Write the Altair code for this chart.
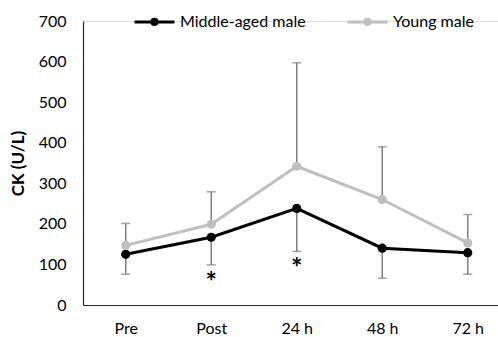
import altair as alt
import pandas as pd

categories = ["Pre", "Post", "24 h", "48 h", "72 h"]
series_names = ["Middle-aged male", "Young male"]
middle_aged = [125, 167, 238, 140, 129]
young = [147, 199, 342, 260, 153]
# error bars: young -> upward, middle-aged -> downward
young_upper = [201, 279, 597, 390, 223]
middle_lower = [76, 99, 132, 66, 76]
sig_labels = ["", "*", "*", "", ""]
sig_pos = [0, 69, 104, 0, 0]
y_ticks = [0, 100, 200, 300, 400, 500, 600, 700]
series_colors = ["#000000", "#bfbfbf"]

rows = []
for i, c in enumerate(categories):
    rows.append({"idx": i, "cat": c, "series": series_names[0], "value": middle_aged[i],
                 "err": middle_lower[i]})
    rows.append({"idx": i, "cat": c, "series": series_names[1], "value": young[i],
                 "err": young_upper[i]})
df = pd.DataFrame(rows)

sig_df = pd.DataFrame({"idx": list(range(len(categories))), "label": sig_labels, "pos": sig_pos})
sig_df = sig_df[sig_df["label"] != ""]

label_expr = "[" + ",".join(f"'{c}'" for c in categories) + "][datum.value]"

x_scale = alt.Scale(domain=[-0.5, 4.354], nice=False, zero=False)
y_scale = alt.Scale(domain=[0, 700], nice=False)

FONT = "Lato"

x_enc = alt.X("idx:Q", scale=x_scale,
              axis=alt.Axis(title=None, values=list(range(len(categories))), labelExpr=label_expr,
                            ticks=False, tickSize=0, grid=False, labelPadding=15,
                            labelFontSize=16, labelColor="#000000", labelFont=FONT,
                            domainColor="#262626", domainWidth=1.2, labelFlush=False))
y_enc = alt.Y("value:Q", scale=y_scale,
              axis=alt.Axis(title="CK (U/L)", values=y_ticks, ticks=False, tickSize=0, grid=False,
                            labelPadding=17, labelFontSize=16, labelColor="#000000", labelFont=FONT,
                            titleFont=FONT, titleFontSize=17, titleFontWeight="bold",
                            titleColor="#000000", titlePadding=11,
                            domainColor="#262626", domainWidth=1.2))

base = alt.Chart(df)

err_rule = base.mark_rule(color="#7f7f7f", strokeWidth=1.5).encode(
    x=x_enc, y=y_enc, y2="err:Q"
)
err_cap = base.mark_tick(color="#7f7f7f", thickness=1.5, size=9, orient="horizontal").encode(
    x="idx:Q", y="err:Q"
)

legend = alt.Legend(
    title=None, orient="none", direction="horizontal", legendX=50, legendY=-21,
    symbolType="M-1,0L1,0M-0.13,0A0.13,0.13,0,1,1,0.13,0A0.13,0.13,0,1,1,-0.13,0Z",
    symbolSize=1600, symbolStrokeWidth=3, labelFontSize=16, labelFont=FONT,
    labelColor="#000000", labelOffset=4, columnPadding=35, symbolOpacity=1,
)

lines = base.mark_line(strokeWidth=3).encode(
    x="idx:Q", y="value:Q",
    stroke=alt.Stroke("series:N", scale=alt.Scale(domain=series_names, range=series_colors),
                      legend=legend, sort=series_names),
    order=alt.Order("idx:Q"),
)
points = base.mark_point(filled=True, size=85, opacity=1, strokeWidth=0).encode(
    x="idx:Q", y="value:Q",
    fill=alt.Fill("series:N", scale=alt.Scale(domain=series_names, range=series_colors),
                  legend=legend, sort=series_names),
)

sig = alt.Chart(sig_df).mark_text(fontSize=27, fontWeight="bold", font=FONT, color="#000000",
                                  baseline="middle", dy=6).encode(
    x="idx:Q", y="pos:Q", text="label:N"
)

chart = alt.layer(err_rule, err_cap, lines, points, sig).properties(
    width=415, height=284,
    autosize=alt.AutoSizeParams(type="none"),
    padding={"left": 83, "top": 21, "right": 0, "bottom": 32},
).configure_view(stroke=None).configure(background="white")

chart.save("out.html", embed_options={"renderer": "svg", "actions": False})
